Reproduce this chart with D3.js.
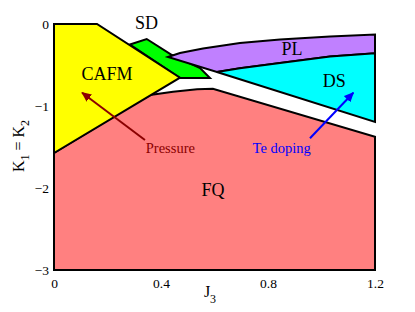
<!DOCTYPE html>
<html>
<head>
<meta charset="utf-8">
<script src="https://cdn.jsdelivr.net/npm/d3@7"></script>
<style>
  body { margin: 0; background: #fff; }
  svg { display: block; font-family: 'Liberation Serif', 'Times New Roman', serif; }
</style>
</head>
<body>
<div id="chart"></div>
<script>
// phase boundaries in (J3, K1=K2) coordinates
const fqRegion = [[0, -3], [0, -1.573], [0.3215, -0.933], [0.359, -0.866], [0.445, -0.826],
  [0.535, -0.796], [0.594, -0.789], [1.2, -1.374], [1.2, -3]];
const sdRegion = [[0.284, -0.25], [0.3465, -0.183], [0.441, -0.378], [0.546, -0.537],
  [0.583, -0.659], [0.471, -0.659]];
const cafmRegion = [[0, 0], [0.1607, 0], [0.471, -0.655], [0, -1.573]];
const plRegion = [[0.426, -0.402], [0.471, -0.354], [0.557, -0.299], [0.695, -0.232],
  [0.845, -0.189], [1.032, -0.152], [1.2, -0.128], [1.2, -0.357], [1.032, -0.396],
  [0.845, -0.476], [0.695, -0.540], [0.609, -0.585]];
const dsRegion = [[0.609, -0.585], [0.695, -0.540], [0.845, -0.476], [1.032, -0.396],
  [1.2, -0.357], [1.2, -1.195]];

const regionNames = ['FQ', 'SD', 'CAFM', 'PL', 'DS'];
const regionColors = ['#ff8080', '#00ff00', '#ffff00', '#c080ff', '#00ffff'];
const regionPoints = [fqRegion, sdRegion, cafmRegion, plRegion, dsRegion];
// where each phase name sits
const labelPos = [[0.594, -2.1], [0.346, -0.06], [0.198, -0.68], [0.89, -0.38], [1.048, -0.77]];

const arrowNames = ['Pressure', 'Te doping'];
const arrowColors = ['#8b0000', '#0000ff'];
const arrowFrom = [[0.340, -1.415], [0.957, -1.394]];
const arrowTo = [[0.105, -0.838], [1.119, -0.838]];
const arrowTextPos = [[0.435, -1.57], [0.851, -1.57]];

const xTicks = [0, 0.4, 0.8, 1.2];
const yTicks = [0, -1, -2, -3];

const width = 415;
const height = 312;
const margin = {
  top: 24, right: 40, bottom: 42, left: 54,
};

const svg = d3.select('#chart')
  .append('svg')
  .attr('width', width)
  .attr('height', height);

const x = d3.scaleLinear()
  .domain([0, 1.2])
  .range([margin.left, width - margin.right]);

const y = d3.scaleLinear()
  .domain([-3, 0])
  .range([height - margin.bottom, margin.top]);

const line = d3.line()
  .x((d) => x(d[0]))
  .y((d) => y(d[1]));

const defs = svg.append('defs');
arrowColors.forEach((c, i) => {
  defs.append('marker')
    .attr('id', `head${i}`)
    .attr('viewBox', '0 -5 10 10')
    .attr('refX', 9)
    .attr('refY', 0)
    .attr('markerWidth', 5)
    .attr('markerHeight', 5)
    .attr('markerUnits', 'strokeWidth')
    .attr('orient', 'auto')
    .append('path')
    .attr('d', 'M0,-4.5L10,0L0,4.5Z')
    .attr('fill', c);
});

// regions
svg.append('g')
  .selectAll('path')
  .data(regionPoints)
  .join('path')
  .attr('d', (d) => `${line(d)}Z`)
  .attr('fill', (d, i) => regionColors[i])
  .attr('stroke', '#000')
  .attr('stroke-width', 2)
  .attr('stroke-linejoin', 'miter');

// phase names
svg.append('g')
  .selectAll('text')
  .data(regionNames)
  .join('text')
  .attr('x', (d, i) => x(labelPos[i][0]))
  .attr('y', (d, i) => y(labelPos[i][1]))
  .attr('text-anchor', 'middle')
  .attr('font-size', 18)
  .text((d) => d);

// arrows
svg.append('g')
  .selectAll('line')
  .data(arrowNames)
  .join('line')
  .attr('x1', (d, i) => x(arrowFrom[i][0]))
  .attr('y1', (d, i) => y(arrowFrom[i][1]))
  .attr('x2', (d, i) => x(arrowTo[i][0]))
  .attr('y2', (d, i) => y(arrowTo[i][1]))
  .attr('stroke', (d, i) => arrowColors[i])
  .attr('stroke-width', 2)
  .attr('marker-end', (d, i) => `url(#head${i})`);

svg.append('g')
  .selectAll('text')
  .data(arrowNames)
  .join('text')
  .attr('x', (d, i) => x(arrowTextPos[i][0]))
  .attr('y', (d, i) => y(arrowTextPos[i][1]))
  .attr('text-anchor', 'middle')
  .attr('font-size', 14.5)
  .attr('fill', (d, i) => arrowColors[i])
  .text((d) => d);

// axes
const xAxis = svg.append('g')
  .attr('transform', `translate(0,${height - margin.bottom})`)
  .call(d3.axisBottom(x).tickValues(xTicks).tickSize(0).tickPadding(8)
    .tickFormat(d3.format('~g')));
const yAxis = svg.append('g')
  .attr('transform', `translate(${margin.left},0)`)
  .call(d3.axisLeft(y).tickValues(yTicks).tickSize(0).tickPadding(5)
    .tickFormat(d3.format('~g')));
[xAxis, yAxis].forEach((a) => {
  a.select('.domain').remove();
  a.selectAll('text')
    .attr('font-family', 'Liberation Serif, serif')
    .attr('font-size', 13.5)
    .attr('fill', '#000');
});

// axis titles
const xTitle = svg.append('text')
  .attr('x', 210)
  .attr('y', 297)
  .attr('text-anchor', 'middle')
  .attr('font-size', 16);
xTitle.append('tspan').text('J');
xTitle.append('tspan').attr('dy', 6).attr('font-size', 12).text('3');

const yTitle = svg.append('text')
  .attr('transform', 'translate(24,146) rotate(-90)')
  .attr('text-anchor', 'middle')
  .attr('font-size', 16);
yTitle.append('tspan').text('K');
yTitle.append('tspan').attr('dy', 5).attr('font-size', 12).text('1');
yTitle.append('tspan').attr('dy', -5).text(' = K');
yTitle.append('tspan').attr('dy', 5).attr('font-size', 12).text('2');
</script>
</body>
</html>
